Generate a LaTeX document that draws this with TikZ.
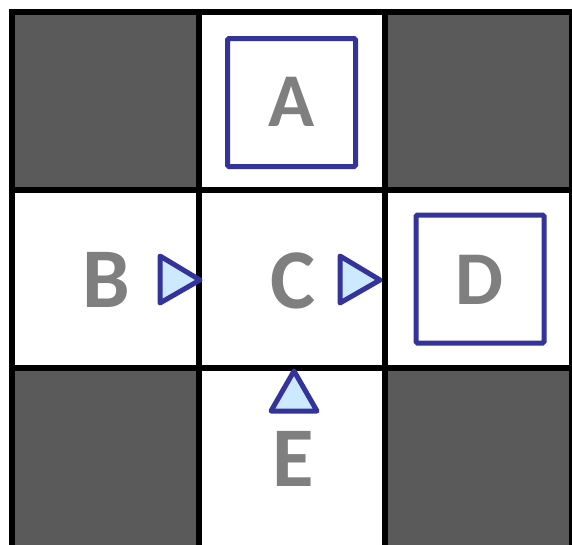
\documentclass[tikz,border=0pt]{standalone}
\usepackage{fontspec}
\setmainfont{Carlito}
\definecolor{cellgrey}{HTML}{5A5A5A}
\definecolor{boxblue}{HTML}{333399}
\definecolor{tripale}{HTML}{CCE9FF}
\definecolor{lettergrey}{HTML}{7F7F7F}
\begin{document}
\begin{tikzpicture}[x=1pt,y=-1pt,
  gridline/.style={line width=6pt,black},
  darkcell/.style={fill=cellgrey,draw=none},
  slotbox/.style={draw=boxblue,line width=5pt,rounded corners=1.5pt,minimum width=128pt,minimum height=128pt,inner sep=0pt},
  arrowtri/.style={draw=boxblue,fill=tripale,line width=5pt,line join=round},
  bigletter/.style={text=lettergrey,font=\bfseries\fontsize{85}{85}\selectfont,inner sep=0pt,anchor=base},
  midletter/.style={text=lettergrey,font=\bfseries\fontsize{76}{76}\selectfont,inner sep=0pt,anchor=base}]
\useasboundingbox (0,0) rectangle (572,544);
\fill[white] (0,0) rectangle (572,544);
% dark cells
\fill[darkcell] (12,12) rectangle (199,190);
\fill[darkcell] (385,12) rectangle (572,190);
\fill[darkcell] (12,368) rectangle (199,548);
\fill[darkcell] (385,368) rectangle (572,548);
% grid
\draw[gridline] (12,12) rectangle (572,547.5);
\draw[gridline] (199,12) -- (199,547.5);
\draw[gridline] (385,12) -- (385,547.5);
\draw[gridline] (12,190) -- (572,190);
\draw[gridline] (12,368) -- (572,368);
% boxes
\node[slotbox] (boxA) at (291.5,102.5) {};
\node[slotbox] (boxD) at (480,279) {};
% triangles
\coordinate (tB1) at (160,256);
\coordinate (tB2) at (200,280);
\coordinate (tB3) at (160,303);
\draw[arrowtri] (tB1) -- (tB2) -- (tB3) -- cycle;
\coordinate (tC1) at (340,256);
\coordinate (tC2) at (380,280);
\coordinate (tC3) at (340,303);
\draw[arrowtri] (tC1) -- (tC2) -- (tC3) -- cycle;
\coordinate (tE1) at (271,411);
\coordinate (tE2) at (294,371);
\coordinate (tE3) at (317,411);
\draw[arrowtri] (tE1) -- (tE2) -- (tE3) -- cycle;
% letters
\node[midletter] (labA) at (292,126) {A};
\node[bigletter] (labB) at (106.5,307) {B};
\node[bigletter] (labC) at (293,308) {C};
\node[midletter] (labD) at (479.5,304) {D};
\node[bigletter] (labE) at (293,486) {E};
\end{tikzpicture}
\end{document}
